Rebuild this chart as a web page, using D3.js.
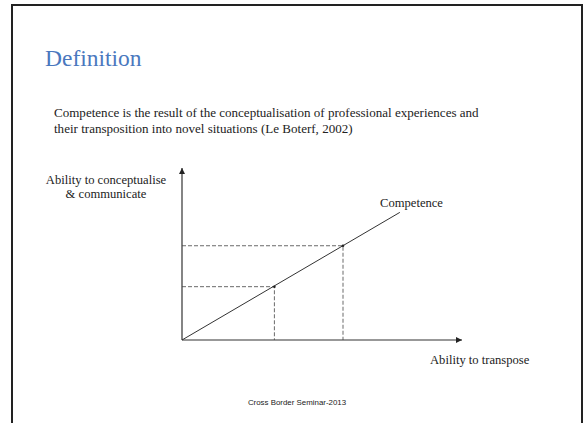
<!DOCTYPE html>
<html>
<head>
<meta charset="utf-8">
<script src="https://cdn.jsdelivr.net/npm/d3@7"></script>
<style>
  body { margin: 0; background: #fff; }
  text { font-family: "Liberation Serif", "Times New Roman", serif; fill: #222; }
</style>
</head>
<body>
<script>
// chart values
var axisLabels = ['Ability to transpose', 'Ability to conceptualise', '& communicate'];
var lineLabel = 'Competence';
var lineX = [0, 7.78];
var lineY = [0, 7.42];
var markX = [3.3, 5.75];
var markY = [3.1, 5.48];

var screen = { width: 583, height: 423 };
var svg = d3.select('body').append('svg')
            .attr('width', screen.width)
            .attr('height', screen.height);

// slide frame
svg.append('rect')
   .attr('x', 12).attr('y', 5)
   .attr('width', 570).attr('height', 430)
   .attr('fill', 'none')
   .attr('stroke', '#222')
   .attr('stroke-width', 2);

svg.append('text')
   .attr('x', 45).attr('y', 65.5)
   .style('font-size', '23.5px')
   .style('fill', '#4a78be')
   .text('Definition');

var body = svg.append('text').style('font-size', '13.05px');
body.append('tspan').attr('x', 54).attr('y', 116.5)
    .text('Competence is the result of the conceptualisation of professional experiences and');
body.append('tspan').attr('x', 54).attr('y', 132.5)
    .text('their transposition into novel situations (Le Boterf, 2002)');

var xScale = d3.scaleLinear().domain([0, 10]).range([182, 462]);
var yScale = d3.scaleLinear().domain([0, 10]).range([340, 168]);

var defs = svg.append('defs');
defs.append('marker')
    .attr('id', 'arrow')
    .attr('viewBox', '0 0 10 10')
    .attr('refX', 10).attr('refY', 5)
    .attr('markerWidth', 10).attr('markerHeight', 6)
    .attr('markerUnits', 'userSpaceOnUse')
    .attr('orient', 'auto')
    .append('path')
    .attr('d', 'M0,0 L10,5 L0,10 Z')
    .attr('fill', '#222');

var chart = svg.append('g').classed('chart', true);

// axes
chart.append('line')
     .attr('x1', xScale(0)).attr('y1', yScale(0))
     .attr('x2', xScale(10)).attr('y2', yScale(0))
     .attr('stroke', '#333').attr('stroke-width', 1.2)
     .attr('marker-end', 'url(#arrow)');
chart.append('line')
     .attr('x1', xScale(0)).attr('y1', yScale(0))
     .attr('x2', xScale(0)).attr('y2', yScale(10))
     .attr('stroke', '#333').attr('stroke-width', 1.2)
     .attr('marker-end', 'url(#arrow)');

// dashed guides
markX.forEach(function(mx, i){
  chart.append('polyline')
       .attr('points', [[xScale(0), yScale(markY[i])], [xScale(mx), yScale(markY[i])], [xScale(mx), yScale(0)]].join(' '))
       .attr('fill', 'none')
       .attr('stroke', '#444')
       .attr('stroke-width', 0.8)
       .attr('stroke-dasharray', '4,2');
});

// competence line
var line = d3.line()
             .x(function(d){ return xScale(d[0]); })
             .y(function(d){ return yScale(d[1]); });
chart.append('path')
     .datum(lineX.map(function(x, i){ return [x, lineY[i]]; }))
     .attr('d', line)
     .attr('fill', 'none')
     .attr('stroke', '#333')
     .attr('stroke-width', 1);

chart.selectAll('circle')
     .data(markX)
     .enter()
     .append('circle')
     .attr('cx', function(d){ return xScale(d); })
     .attr('cy', function(d, i){ return yScale(markY[i]); })
     .attr('r', 1.3)
     .attr('fill', '#222');

chart.append('text')
     .attr('x', 380).attr('y', 207)
     .style('font-size', '12.6px')
     .text(lineLabel);
chart.append('text')
     .attr('x', 430).attr('y', 364)
     .style('font-size', '12.6px')
     .text(axisLabels[0]);
chart.append('text')
     .attr('x', 106).attr('y', 184)
     .attr('text-anchor', 'middle')
     .style('font-size', '12.6px')
     .text(axisLabels[1]);
chart.append('text')
     .attr('x', 106).attr('y', 198)
     .attr('text-anchor', 'middle')
     .style('font-size', '12.6px')
     .text(axisLabels[2]);

svg.append('text')
   .attr('x', 297).attr('y', 405)
   .attr('text-anchor', 'middle')
   .style('font-family', '"Liberation Sans", Arial, sans-serif')
   .style('font-size', '7.9px')
   .text('Cross Border Seminar-2013');
</script>
</body>
</html>
